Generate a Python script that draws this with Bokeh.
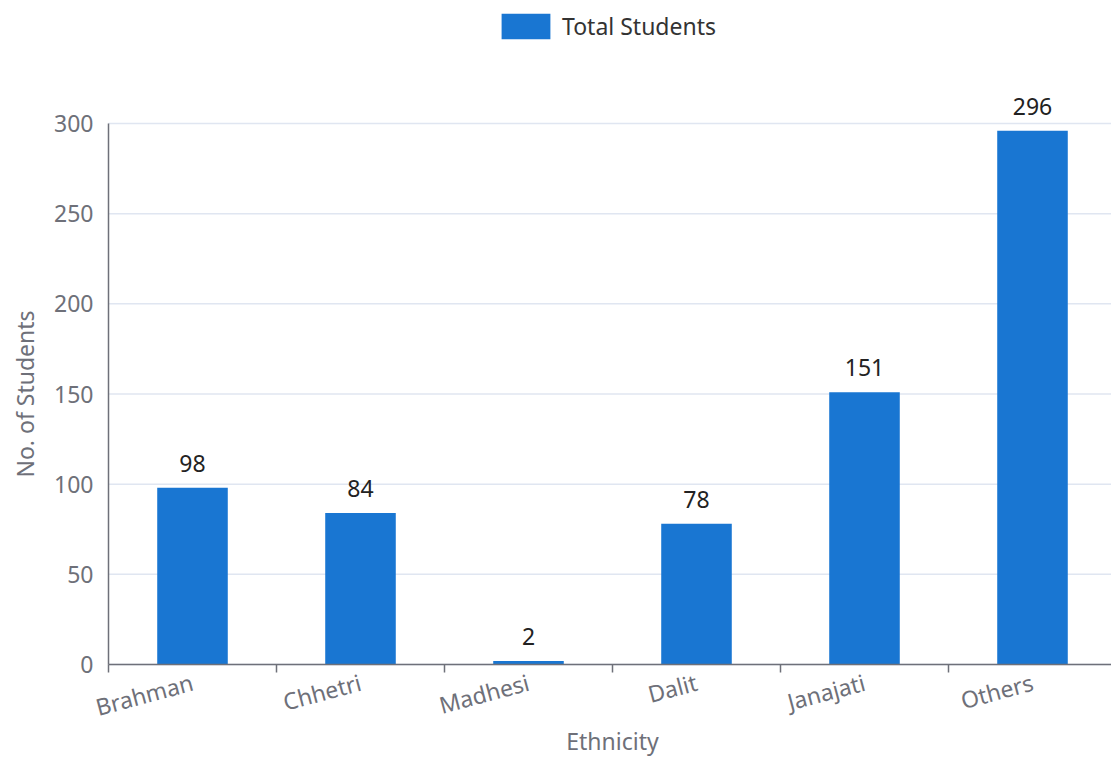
import math

from bokeh.core.properties import value
from bokeh.embed import file_html
from bokeh.models import (ColumnDataSource, FixedTicker, Label, LabelSet,
                          Legend, LegendItem, Range1d)
from bokeh.plotting import figure
from bokeh.resources import INLINE

# Students per ethnic group
categories = ["Brahman", "Chhetri", "Madhesi", "Dalit", "Janajati", "Others"]
students = [98, 84, 2, 78, 151, 296]
y_ticks = [0, 50, 100, 150, 200, 250, 300]

FONT = "Noto Sans"
FONT_SIZE = "23px"
AXIS_GREY = "#6E7079"
GRID_GREY = "#E0E6F1"
BAR_BLUE = "#1976D2"

# page geometry (pixels). The frame fills the whole page and both axes are
# pinned at 0, so labels outside the plotting area are not clipped.
W, H = 1111, 757
ORIGIN_X, TOP_PX, ORIGIN_Y = 108, 123, 664
BAND_PX = 168
Y_MAX = 300
ppu = (ORIGIN_Y - TOP_PX) / Y_MAX
x_lo = -ORIGIN_X / BAND_PX
x_hi = (W - ORIGIN_X) / BAND_PX
y_lo = -(H - ORIGIN_Y) / ppu
y_hi = Y_MAX + TOP_PX / ppu

# bars sit in the middle of each category band
centers = [i + 0.5 for i in range(len(categories))]
source = ColumnDataSource(dict(
    x=centers,
    cat=categories,
    n=students,
    label=[str(v) for v in students],
))

p = figure(
    width=W, height=H,
    x_range=Range1d(x_lo, x_hi),
    y_range=Range1d(y_lo, y_hi),
    output_backend="svg", toolbar_location=None,
    min_border_left=0, min_border_right=0,
    min_border_top=0, min_border_bottom=0,
)
p.outline_line_color = None
p.background_fill_color = "white"
p.border_fill_color = "white"

# horizontal grid lines, starting at the value axis
p.grid.visible = False
p.segment(x0=0, x1=x_hi, y0=y_ticks, y1=y_ticks,
          line_color=GRID_GREY, line_width=1.5)

bars = p.vbar(x="x", top="n", width=0.42, bottom=0, source=source,
              fill_color=BAR_BLUE, line_color=None)

# value labels above each bar
p.add_layout(LabelSet(
    x="x", y="n", text="label", source=source,
    text_align="center", text_baseline="alphabetic", y_offset=16,
    text_font=value(FONT), text_font_size=value(FONT_SIZE),
    text_color="#222222",
))

# x axis at y = 0: labels at band centres, ticks on band boundaries
xa = p.xaxis[0]
xa.fixed_location = 0
xa.bounds = (0, len(categories))
xa.ticker = FixedTicker(ticks=centers,
                        minor_ticks=list(range(len(categories) + 1)))
xa.major_label_overrides = {c: name for c, name in zip(centers, categories)}
xa.major_label_orientation = math.radians(15)
xa.major_tick_in = 0
xa.major_tick_out = 0
xa.minor_tick_in = 0
xa.minor_tick_out = 8
xa.minor_tick_line_color = AXIS_GREY
xa.minor_tick_line_width = 1.5
xa.axis_line_color = AXIS_GREY
xa.axis_line_width = 1.5
xa.major_label_text_color = AXIS_GREY
xa.major_label_text_font = FONT
xa.major_label_text_font_size = FONT_SIZE
xa.major_label_standoff = 9

# y axis at x = 0, running from 0 to Y_MAX
ya = p.yaxis[0]
ya.fixed_location = 0
ya.bounds = (0, Y_MAX)
ya.ticker = FixedTicker(ticks=y_ticks)
ya.major_tick_in = 0
ya.major_tick_out = 0
ya.minor_tick_line_color = None
ya.axis_line_color = AXIS_GREY
ya.axis_line_width = 1.5
ya.major_label_text_color = AXIS_GREY
ya.major_label_text_font = FONT
ya.major_label_text_font_size = FONT_SIZE
ya.major_label_standoff = 15

# axis titles
p.add_layout(Label(
    x=len(categories) / 2, y=-76 / ppu,
    text="Ethnicity", text_align="center", text_baseline="middle",
    text_font=FONT, text_font_size=FONT_SIZE, text_color=AXIS_GREY,
))
p.add_layout(Label(
    x=-84 / BAND_PX, y=Y_MAX / 2, angle=math.pi / 2,
    text="No. of Students", text_align="center", text_baseline="middle",
    text_font=FONT, text_font_size=FONT_SIZE, text_color=AXIS_GREY,
))

# area legend glyphs are inset by 10% on each side of the glyph box
legend = Legend(
    items=[LegendItem(label="Total Students", renderers=[bars])],
    location=(495, H - 42),
    orientation="horizontal",
    glyph_width=61, glyph_height=32,
    label_standoff=6,
    label_text_font=FONT, label_text_font_size=FONT_SIZE,
    label_text_color="#333333", label_text_baseline="middle",
    padding=0, margin=0, spacing=0,
    border_line_color=None, background_fill_alpha=0,
)
p.add_layout(legend)

open("out.html", "w").write(file_html(p, INLINE))
